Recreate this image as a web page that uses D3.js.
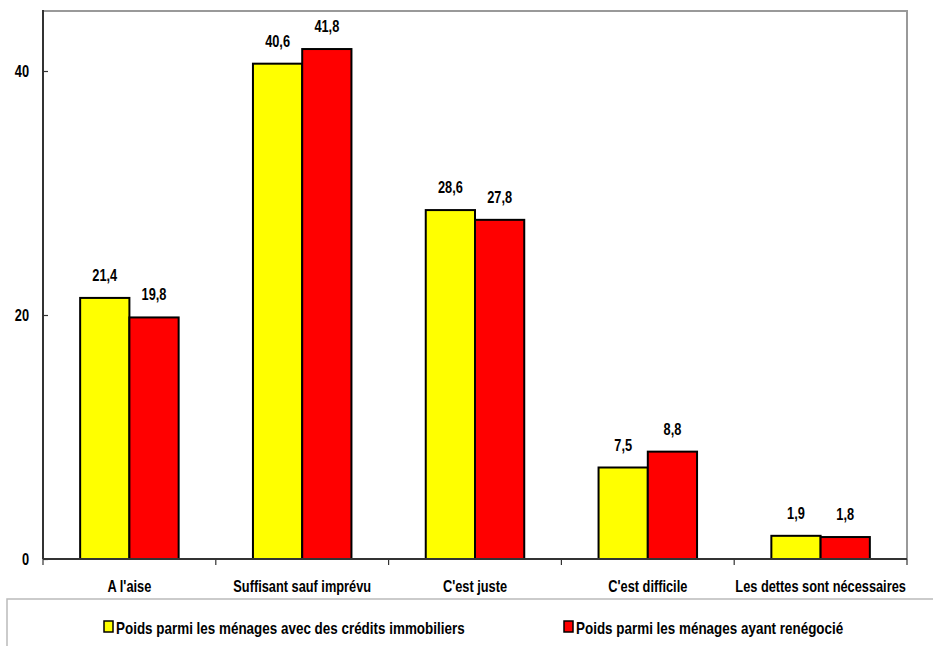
<!DOCTYPE html>
<html>
<head>
<meta charset="utf-8">
<script src="https://cdn.jsdelivr.net/npm/d3@7"></script>
<style>
body{margin:0;background:#fff;}
text{font-family:"Liberation Sans Narrow","Arial Narrow","Liberation Sans",sans-serif;font-weight:bold;fill:#000;}
</style>
</head>
<body>
<svg></svg>
<script>
var categories = ["A l'aise","Suffisant sauf imprévu","C'est juste","C'est difficile","Les dettes sont nécessaires"];
var seriesNames = ["Poids parmi les ménages avec des crédits immobiliers","Poids parmi les ménages ayant renégocié"];
var credits = [21.4,40.6,28.6,7.5,1.9];
var renegocie = [19.8,41.8,27.8,8.8,1.8];
var yTicks = [0,20,40];
var colors = ["#ffff00","#ff0000"];

const canvasWidth=933;
const canvasHeight=646;
const plotLeft=43, plotRight=907, plotTop=10, plotBottom=559;
const narrow = 0.8;

var svg = d3.select("svg").attr("width",canvasWidth).attr("height",canvasHeight);

// place a text squeezed horizontally (narrow font look)
function place(xp,yp,sx){
    return "translate("+xp+","+yp+") scale("+(sx||narrow)+",1)";
}

var x = d3.scaleBand().domain(categories).range([plotLeft,plotRight]).paddingInner(0.43).paddingOuter(0.215);
var xs = d3.scaleBand().domain([0,1]).range([0,x.bandwidth()]);
var y = d3.scaleLinear().domain([0,45]).range([plotBottom,plotTop]);

// frame top and right
svg.append("line").attr("x1",plotLeft).attr("x2",plotRight).attr("y1",plotTop+1).attr("y2",plotTop+1)
    .style("stroke","#999").style("stroke-width",2);
svg.append("line").attr("x1",plotRight).attr("x2",plotRight).attr("y1",plotTop).attr("y2",plotBottom)
    .style("stroke","#999").style("stroke-width",2);

var series = [credits,renegocie];
series.forEach(function(vals,s){
    svg.append("g").selectAll("rect").data(vals).enter().append("rect")
        .attr("x",function(d,i){return x(categories[i])+xs(s);})
        .attr("y",function(d){return y(d);})
        .attr("width",xs.bandwidth())
        .attr("height",function(d){return plotBottom-y(d);})
        .style("fill",colors[s])
        .style("stroke","#000")
        .style("stroke-width",2);
    svg.append("g").selectAll("text").data(vals).enter().append("text")
        .attr("transform",function(d,i){return place(x(categories[i])+xs(s)+xs.bandwidth()/2, y(d)-17);})
        .attr("text-anchor","middle")
        .style("font-size","16px")
        .text(function(d){return d3.format(".1f")(d).replace(".",",");});
});

// y axis
var yAxis = d3.axisLeft(y).tickValues(yTicks).tickSize(5).tickPadding(9);
var yg = svg.append("g").attr("transform","translate("+plotLeft+",0)").call(yAxis);
yg.select(".domain").remove();
yg.selectAll(".tick line").attr("x2",5).style("stroke","#333").style("stroke-width",1.2);
yg.selectAll(".tick text")
    .attr("transform","scale("+narrow+",1)")
    .attr("x",-14/narrow)
    .style("font-size","16px").attr("font-family",null);
svg.append("line").attr("x1",plotLeft).attr("x2",plotLeft).attr("y1",plotTop).attr("y2",plotBottom)
    .style("stroke","#333").style("stroke-width",2);

// x axis
var step = (plotRight-plotLeft)/categories.length;
var bounds = d3.range(categories.length+1).map(function(i){return plotLeft+i*step;});
svg.append("line").attr("x1",plotLeft).attr("x2",plotRight).attr("y1",plotBottom).attr("y2",plotBottom)
    .style("stroke","#333").style("stroke-width",2);
svg.append("g").selectAll("line").data(bounds).enter().append("line")
    .attr("x1",function(d){return d;}).attr("x2",function(d){return d;})
    .attr("y1",plotBottom).attr("y2",plotBottom+6)
    .style("stroke","#333").style("stroke-width",1.2);
svg.append("g").selectAll("text").data(categories).enter().append("text")
    .attr("transform",function(d){return place(x(d)+x.bandwidth()/2, plotBottom+33);})
    .attr("text-anchor","middle")
    .style("font-size","16px")
    .text(function(d){return d;});

// legend
svg.append("rect").attr("x",7).attr("y",599).attr("width",940).attr("height",60)
    .style("fill","none").style("stroke","#bbb").style("stroke-width",1.5);
var legendX = [104,564];
seriesNames.forEach(function(name,s){
    svg.append("rect").attr("x",legendX[s]).attr("y",621).attr("width",9).attr("height",11)
        .style("fill",colors[s]).style("stroke","#000").style("stroke-width",1.5);
    svg.append("text").attr("transform",place(legendX[s]+12,634,0.84))
        .style("font-size","16px").text(name);
});
</script>
</body>
</html>
